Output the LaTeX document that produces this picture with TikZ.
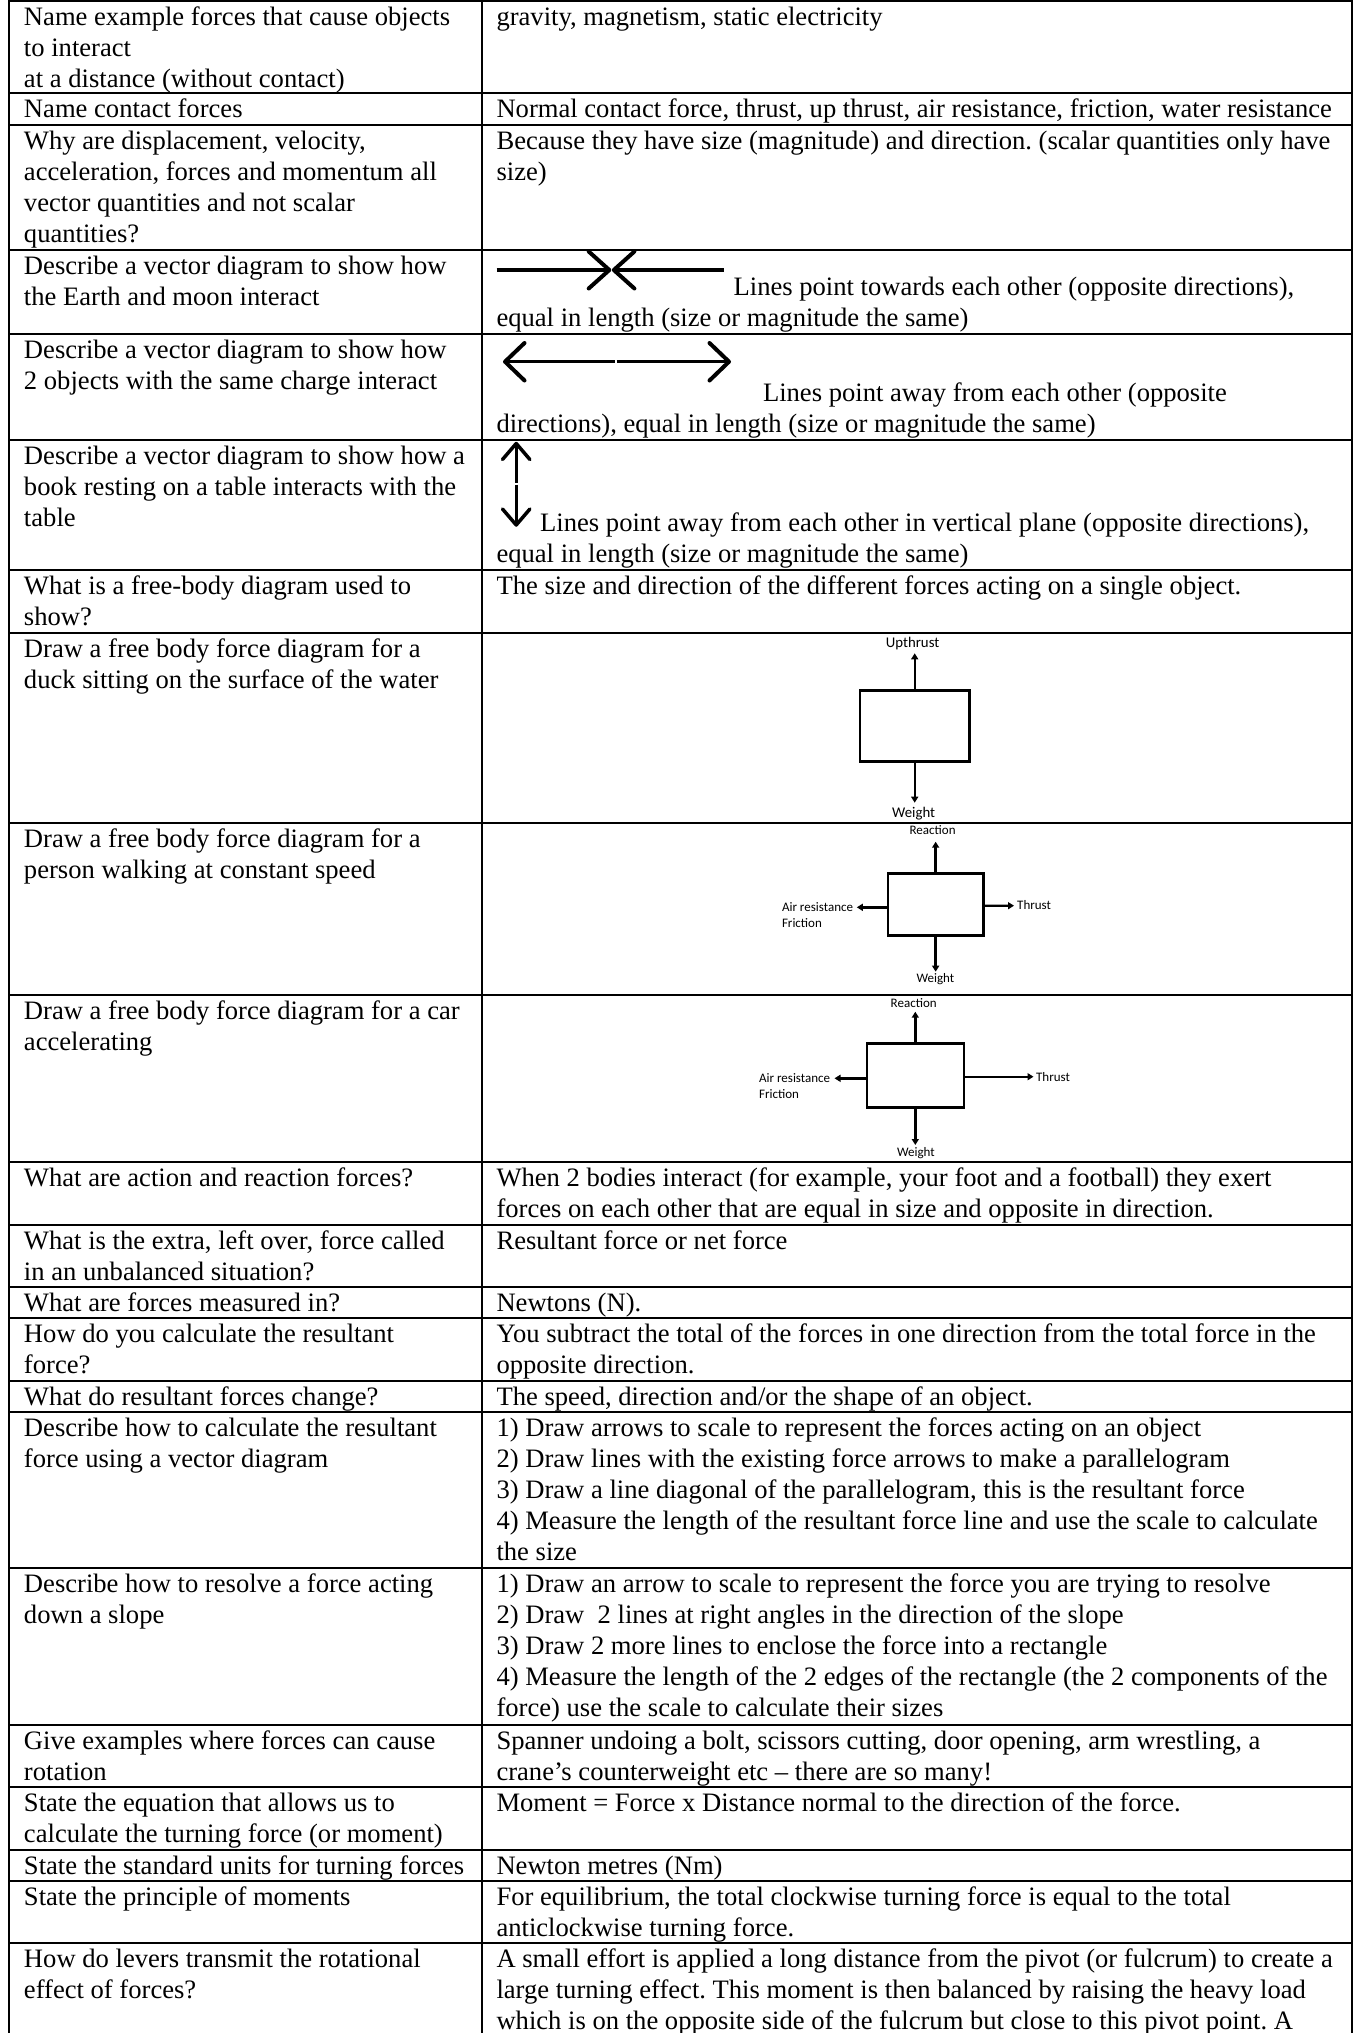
\documentclass[tikz,border=0pt]{standalone}
\usepackage{fontspec}
\setmainfont{Liberation Serif}
\newfontfamily\lblfont{Carlito}
\usetikzlibrary{arrows.meta}
\frenchspacing
\newcommand\tfont{\fontsize{13.3pt}{15.5pt}\selectfont\frenchspacing}
\newcommand\smalllbl{\lblfont\fontsize{6.5pt}{7.8pt}\selectfont}
\newcommand\biglbl{\lblfont\fontsize{7.4pt}{8.9pt}\selectfont}
\newcommand\mlines[1]{\begin{tabular}[t]{@{}l@{}}#1\end{tabular}}
\begin{document}
\begin{tikzpicture}[x=0.5pt,y=-0.5pt,
  gridline/.style={line width=1pt,line cap=rect},
  txt/.style={anchor=base west,inner sep=0pt,outer sep=0pt,font=\tfont},
  shaft/.style={line width=1.75pt},
  barb/.style={line width=2pt,line join=round,line cap=round},
  vshaft/.style={line width=1.5pt},
  vbarb/.style={line width=1.75pt,line join=round,line cap=round},
  fbd/.style={draw,line width=1.3pt,inner sep=0pt},
  force/.style={line width=1.2pt,-{Triangle[length=3pt,width=3.5pt]}},
  lbls/.style={inner sep=0pt,font=\smalllbl},
  lblb/.style={inner sep=0pt,font=\biglbl}]
\useasboundingbox (0,0) rectangle (1354,2033);
\fill[white] (0,0) rectangle (1354,2033);

% grid
\foreach \yy in {1,93.5,125,250,334,439.5,570,632.5,823,995,1162,1224.5,1287,1318.25,1380.75,1412,1568.25,1724.5,1787,1849.5,1880.75,1943.25}
  \draw[gridline] (9,\yy) -- (1351.5,\yy);
\foreach \xx in {9,481.5,1351.5}
  \draw[gridline] (\xx,1) -- (\xx,2040);

% left column
\node[txt] (q1) at (24,25.25) {\mlines{Name example forces that cause objects\\to interact\\at a distance (without contact)}};
\node[txt] (q2) at (24,118) {Name contact forces};
\node[txt] (q3) at (24,149.5) {\mlines{Why are displacement, velocity,\\acceleration, forces and momentum all\\vector quantities and not scalar\\quantities?}};
\node[txt] (q4) at (24,274.5) {\mlines{Describe a vector diagram to show how\\the Earth and moon interact}};
\node[txt] (q5) at (24,358.5) {\mlines{Describe a vector diagram to show how\\2 objects with the same charge interact}};
\node[txt] (q6) at (24,464) {\mlines{Describe a vector diagram to show how a\\book resting on a table interacts with the\\table}};
\node[txt] (q7) at (24,594.5) {\mlines{What is a free-body diagram used to\\show?}};
\node[txt] (q8) at (24,657) {\mlines{Draw a free body force diagram for a\\duck sitting on the surface of the water}};
\node[txt] (q9) at (24,847.5) {\mlines{Draw a free body force diagram for a\\person walking at constant speed}};
\node[txt] (q10) at (24,1019.5) {\mlines{Draw a free body force diagram for a car\\accelerating}};
\node[txt] (q11) at (24,1186.5) {What are action and reaction forces?};
\node[txt] (q12) at (24,1249) {\mlines{What is the extra, left over, force called\\in an unbalanced situation?}};
\node[txt] (q13) at (24,1311.5) {What are forces measured in?};
\node[txt] (q14) at (24,1342.75) {\mlines{How do you calculate the resultant\\force?}};
\node[txt] (q15) at (24,1405.25) {What do resultant forces change?};
\node[txt] (q16) at (24,1436.5) {\mlines{Describe how to calculate the resultant\\force using a vector diagram}};
\node[txt] (q17) at (24,1592.75) {\mlines{Describe how to resolve a force acting\\down a slope}};
\node[txt] (q18) at (24,1749) {\mlines{Give examples where forces can cause\\rotation}};
\node[txt] (q19) at (24,1811.5) {\mlines{State the equation that allows us to\\calculate the turning force (or moment)}};
\node[txt] (q20) at (24,1874) {State the standard units for turning forces};
\node[txt] (q21) at (24,1905.25) {State the principle of moments};
\node[txt] (q22) at (24,1967.75) {\mlines{How do levers transmit the rotational\\effect of forces?}};

% right column
\node[txt] (a1) at (496.5,25.25) {gravity, magnetism, static electricity};
\node[txt] (a2) at (496.5,118) {Normal contact force, thrust, up thrust, air resistance, friction, water resistance};
\node[txt] (a3) at (496.5,149.5) {\mlines{Because they have size (magnitude) and direction. (scalar quantities only have\\size)}};
\node[txt] (a4) at (733.6,295.5) {Lines point towards each other (opposite directions),};
\node[txt] (a4b) at (496.5,326.5) {equal in length (size or magnitude the same)};
\node[txt] (a5) at (763,401) {Lines point away from each other (opposite};
\node[txt] (a5b) at (496.5,432) {directions), equal in length (size or magnitude the same)};
\node[txt] (a6) at (540.2,531.5) {Lines point away from each other in vertical plane (opposite directions),};
\node[txt] (a6b) at (496.5,562.5) {equal in length (size or magnitude the same)};
\node[txt] (a7) at (496.5,594.5) {The size and direction of the different forces acting on a single object.};
\node[txt] (a11) at (496.5,1186.5) {\mlines{When 2 bodies interact (for example, your foot and a football) they exert\\forces on each other that are equal in size and opposite in direction.}};
\node[txt] (a12) at (496.5,1249) {Resultant force or net force};
\node[txt] (a13) at (496.5,1311.5) {Newtons (N).};
\node[txt] (a14) at (496.5,1342.75) {\mlines{You subtract the total of the forces in one direction from the total force in the\\opposite direction.}};
\node[txt] (a15) at (496.5,1405.25) {The speed, direction and/or the shape of an object.};
\node[txt] (a16) at (496.5,1436.5) {\mlines{1) Draw arrows to scale to represent the forces acting on an object\\2) Draw lines with the existing force arrows to make a parallelogram\\3) Draw a line diagonal of the parallelogram, this is the resultant force\\4) Measure the length of the resultant force line and use the scale to calculate\\the size}};
\node[txt] (a17) at (496.5,1592.75) {\mlines{1) Draw an arrow to scale to represent the force you are trying to resolve\\2) Draw\ \ 2 lines at right angles in the direction of the slope\\3) Draw 2 more lines to enclose the force into a rectangle\\4) Measure the length of the 2 edges of the rectangle (the 2 components of the\\force) use the scale to calculate their sizes}};
\node[txt] (a18) at (496.5,1749) {\mlines{Spanner undoing a bolt, scissors cutting, door opening, arm wrestling, a\\crane’s counterweight etc – there are so many!}};
\node[txt] (a19) at (496.5,1811.5) {Moment = Force x Distance normal to the direction of the force.};
\node[txt] (a20) at (496.5,1874) {Newton metres (Nm)};
\node[txt] (a21) at (496.5,1905.25) {\mlines{For equilibrium, the total clockwise turning force is equal to the total\\anticlockwise turning force.}};
\node[txt] (a22) at (496.5,1967.75) {\mlines{A small effort is applied a long distance from the pivot (or fulcrum) to create a\\large turning effect. This moment is then balanced by raising the heavy load\\which is on the opposite side of the fulcrum but close to this pivot point. A}};

% row 4: arrows pointing towards each other
\coordinate (e1s) at (496.7,270);
\coordinate (e1t) at (609.3,270);
\coordinate (e2s) at (723.6,270);
\coordinate (e2t) at (613.8,270);
\draw[shaft] (e1s) -- (606,270);
\draw[barb] (588.7,251.5) -- (e1t) -- (588.7,288.5);
\draw[shaft] (617,270) -- (e2s);
\draw[barb] (634.4,251.5) -- (e2t) -- (634.4,288.5);

% row 5: arrows pointing away
\coordinate (f1t) at (505,361.7);
\coordinate (f2t) at (729,361.7);
\draw[shaft] (508,361.7) -- (614.5,361.7);
\draw[shaft] (616.5,361.7) -- (726,361.7);
\draw[barb] (524.5,343) -- (f1t) -- (524.5,380.5);
\draw[barb] (709.5,343) -- (f2t) -- (709.5,380.5);

% row 6: vertical arrows
\coordinate (g1t) at (516.2,443.5);
\coordinate (g2t) at (516.2,525);
\draw[vshaft] (516.2,446) -- (516.2,482.5);
\draw[vshaft] (516.2,484.5) -- (516.2,522.5);
\draw[vbarb] (502.5,459.5) -- (g1t) -- (529.9,459.5);
\draw[vbarb] (502.5,509) -- (g2t) -- (529.9,509);

% duck diagram
\node[fbd,minimum width=54.7pt,minimum height=35.5pt] (duck) at (914.7,726.2) {};
\coordinate (duckU) at (914.7,653.3);
\coordinate (duckD) at (914.7,802.7);
\draw[force] (duck.north) -- (duckU);
\draw[force] (duck.south) -- (duckD);
\node[lblb,anchor=base] (duckUl) at (912.6,647.4) {Upthrust};
\node[lblb,anchor=base] (duckDl) at (913.7,817.5) {Weight};

% walking diagram
\node[fbd,minimum width=47.65pt,minimum height=31.2pt] (walk) at (935.65,904.5) {};
\coordinate (walkU) at (935.65,841.7);
\coordinate (walkD) at (935.65,971.7);
\coordinate (walkL) at (856.8,907.3);
\coordinate (walkR) at (1014,905.7);
\draw[force] (walk.north) -- (walkU);
\draw[force] (walk.south) -- (walkD);
\draw[force] ([yshift=-1.4pt]walk.west) -- (walkL);
\draw[force] ([yshift=-0.6pt]walk.east) -- (walkR);
\node[lbls,anchor=base] (walkUl) at (932.6,834.9) {Reaction};
\node[lbls,anchor=base] (walkDl) at (935.4,982.5) {Weight};
\node[lbls,anchor=base west] (walkLl) at (781.6,911) {Air resistance};
\node[lbls,anchor=base west] (walkLl2) at (781.6,927) {Friction};
\node[lbls,anchor=base west] (walkRl) at (1016.8,909.5) {Thrust};

% car diagram
\node[fbd,minimum width=48.5pt,minimum height=32pt] (car) at (915.3,1075.3) {};
\coordinate (carU) at (915.3,1011.7);
\coordinate (carD) at (915.3,1145);
\coordinate (carL) at (834.5,1078.3);
\coordinate (carR) at (1033.5,1076.7);
\draw[force] (car.north) -- (carU);
\draw[force] (car.south) -- (carD);
\draw[force] ([yshift=-1.5pt]car.west) -- (carL);
\draw[force] ([yshift=-0.7pt]car.east) -- (carR);
\node[lbls,anchor=base] (carUl) at (913.7,1007.5) {Reaction};
\node[lbls,anchor=base] (carDl) at (915.9,1156.5) {Weight};
\node[lbls,anchor=base west] (carLl) at (758.7,1082) {Air resistance};
\node[lbls,anchor=base west] (carLl2) at (758.7,1098.5) {Friction};
\node[lbls,anchor=base west] (carRl) at (1035.7,1081) {Thrust};
\end{tikzpicture}
\end{document}
